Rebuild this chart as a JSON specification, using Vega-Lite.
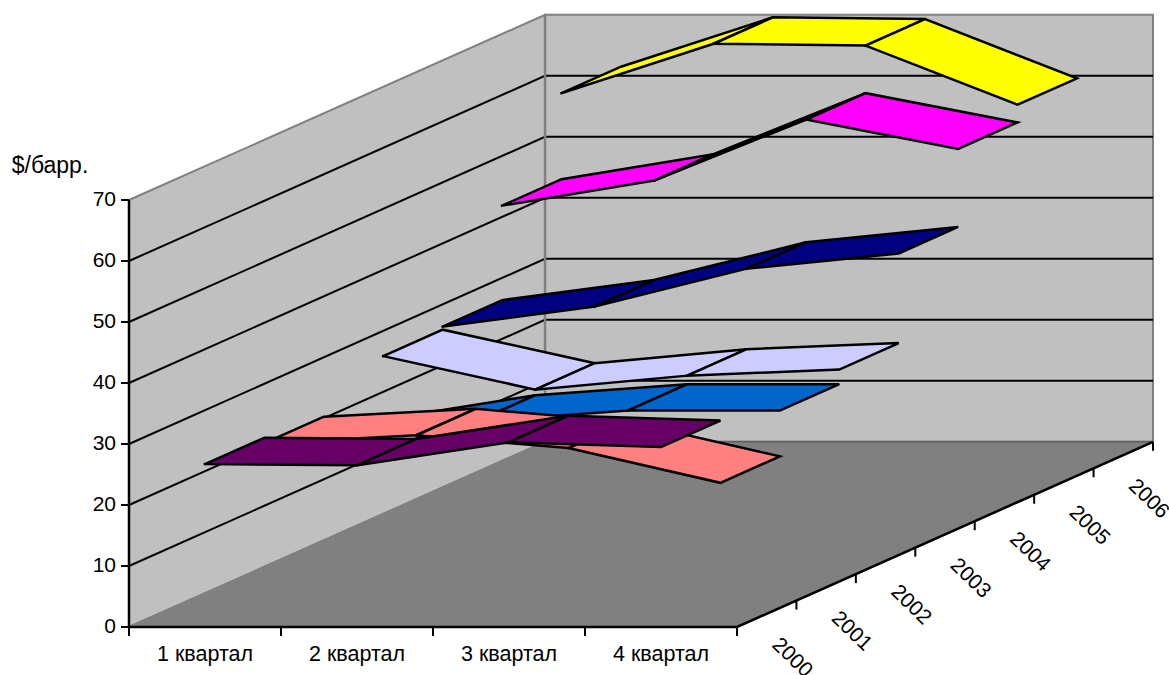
{
"$schema":"https://vega.github.io/schema/vega-lite/v6.json",
"width":1169,"height":675,"padding":0,"autosize":"none",
"background":"white",
"config":{"view":{"stroke":null},"font":"Liberation Sans"},
"resolve":{"scale":{"fill":"independent"}},
"datasets":{
"prices":[
{"year":2006,"q":0,"price":61.5},{"year":2006,"q":1,"price":69.6},{"year":2006,"q":2,"price":69.3},{"year":2006,"q":3,"price":59.6},
{"year":2005,"q":0,"price":47.4},{"year":2005,"q":1,"price":51.5},{"year":2005,"q":2,"price":61.5},{"year":2005,"q":3,"price":56.7},
{"year":2004,"q":0,"price":31.9},{"year":2004,"q":1,"price":35.2},{"year":2004,"q":2,"price":41.4},{"year":2004,"q":3,"price":43.9},
{"year":2003,"q":0,"price":31.4},{"year":2003,"q":1,"price":25.9},{"year":2003,"q":2,"price":28.2},{"year":2003,"q":3,"price":29.2},
{"year":2002,"q":0,"price":21},{"year":2002,"q":1,"price":25},{"year":2002,"q":2,"price":26.8},{"year":2002,"q":3,"price":26.8},
{"year":2001,"q":0,"price":25.8},{"year":2001,"q":1,"price":27.1},{"year":2001,"q":2,"price":25},{"year":2001,"q":3,"price":19.3},
{"year":2000,"q":0,"price":26.7},{"year":2000,"q":1,"price":26.5},{"year":2000,"q":2,"price":30.3},{"year":2000,"q":3,"price":29.5}
],
"walls":[
{"part":"left","ord":0,"q":0,"d":0,"v":0},{"part":"left","ord":1,"q":0,"d":0,"v":70},{"part":"left","ord":2,"q":0,"d":7,"v":70},{"part":"left","ord":3,"q":0,"d":7,"v":0},{"part":"left","ord":4,"q":0,"d":0,"v":0},
{"part":"back","ord":0,"q":0,"d":7,"v":0},{"part":"back","ord":1,"q":0,"d":7,"v":70},{"part":"back","ord":2,"q":4,"d":7,"v":70},{"part":"back","ord":3,"q":4,"d":7,"v":0},{"part":"back","ord":4,"q":0,"d":7,"v":0},
{"part":"floor","ord":0,"q":0,"d":0,"v":0},{"part":"floor","ord":1,"q":4,"d":0,"v":0},{"part":"floor","ord":2,"q":4,"d":7,"v":0},{"part":"floor","ord":3,"q":0,"d":7,"v":0},{"part":"floor","ord":4,"q":0,"d":0,"v":0}
],
"grid":[{"v":10},{"v":20},{"v":30},{"v":40},{"v":50},{"v":60}],
"corner":[{"ord":0,"q":0,"d":7,"v":0},{"ord":1,"q":0,"d":7,"v":70}],
"baseline":[{"ord":0,"q":0,"d":7,"v":0},{"ord":1,"q":4,"d":7,"v":0}],
"axis":[{"ord":0,"q":0,"d":0,"v":70},{"ord":1,"q":0,"d":0,"v":0},{"ord":2,"q":4,"d":0,"v":0},{"ord":3,"q":4,"d":7,"v":0}],
"ticks":[
{"kind":"v","q":0,"d":0,"v":0},{"kind":"v","q":0,"d":0,"v":10},{"kind":"v","q":0,"d":0,"v":20},{"kind":"v","q":0,"d":0,"v":30},{"kind":"v","q":0,"d":0,"v":40},{"kind":"v","q":0,"d":0,"v":50},{"kind":"v","q":0,"d":0,"v":60},{"kind":"v","q":0,"d":0,"v":70},
{"kind":"q","q":0,"d":0,"v":0},{"kind":"q","q":1,"d":0,"v":0},{"kind":"q","q":2,"d":0,"v":0},{"kind":"q","q":3,"d":0,"v":0},{"kind":"q","q":4,"d":0,"v":0},
{"kind":"q","q":4,"d":1,"v":0},{"kind":"q","q":4,"d":2,"v":0},{"kind":"q","q":4,"d":3,"v":0},{"kind":"q","q":4,"d":4,"v":0},{"kind":"q","q":4,"d":5,"v":0},{"kind":"q","q":4,"d":6,"v":0},{"kind":"q","q":4,"d":7,"v":0}
],
"vlabels":[{"v":0},{"v":10},{"v":20},{"v":30},{"v":40},{"v":50},{"v":60},{"v":70}],
"qlabels":[{"q":0,"label":"1 квартал"},{"q":1,"label":"2 квартал"},{"q":2,"label":"3 квартал"},{"q":3,"label":"4 квартал"}],
"ylabels":[{"d":0,"label":"2000"},{"d":1,"label":"2001"},{"d":2,"label":"2002"},{"d":3,"label":"2003"},{"d":4,"label":"2004"},{"d":5,"label":"2005"},{"d":6,"label":"2006"}],
"unit":[{"label":"$/барр.","v":70}]
},
"encoding":{
"x":{"field":"xp","type":"quantitative","axis":null,"scale":{"domain":[0,1169],"nice":false,"zero":false}},
"y":{"field":"yp","type":"quantitative","axis":null,"scale":{"domain":[0,675],"reverse":true,"nice":false,"zero":false}}
},
"layer":[
{"data":{"name":"walls"},
 "transform":[{"calculate":"129+152*datum.q+59.43*datum.d","as":"xp"},{"calculate":"627-6.1*datum.v-26.45*datum.d","as":"yp"}],
 "mark":{"type":"line","stroke":"#808080","strokeWidth":2,"strokeJoin":"miter"},
 "encoding":{"order":{"field":"ord"},"detail":{"field":"part"},
  "fill":{"field":"part","type":"nominal","legend":null,"scale":{"domain":["left","back","floor"],"range":["#C0C0C0","#C0C0C0","#808080"]}}}},
{"data":{"name":"grid"},
 "transform":[{"calculate":"[0,1,2]","as":"ord"},{"flatten":["ord"]},{"calculate":"datum.ord==2?4:0","as":"q"},{"calculate":"datum.ord==0?0:7","as":"d"},
  {"calculate":"129+152*datum.q+59.43*datum.d","as":"xp"},{"calculate":"627-6.1*datum.v-26.45*datum.d","as":"yp"}],
 "mark":{"type":"line","stroke":"black","strokeWidth":2,"strokeJoin":"miter"},
 "encoding":{"order":{"field":"ord"},"detail":{"field":"v"}}},
{"data":{"name":"corner"},
 "transform":[{"calculate":"129+152*datum.q+59.43*datum.d","as":"xp"},{"calculate":"627-6.1*datum.v-26.45*datum.d","as":"yp"}],
 "mark":{"type":"line","stroke":"#808080","strokeWidth":2.5},
 "encoding":{"order":{"field":"ord"}}},
{"data":{"name":"baseline"},
 "transform":[{"calculate":"129+152*datum.q+59.43*datum.d","as":"xp"},{"calculate":"627-6.1*datum.v-26.45*datum.d","as":"yp"}],
 "mark":{"type":"line","stroke":"#505050","strokeWidth":1},
 "encoding":{"order":{"field":"ord"}}},
{"data":{"name":"prices"},
 "transform":[
  {"window":[{"op":"lead","field":"price","as":"next"}],"sort":[{"field":"q"}],"groupby":["year"]},
  {"filter":"datum.q<3"},
  {"calculate":"[0,1,2,3,4]","as":"c"},{"flatten":["c"]},
  {"calculate":"datum.year-2000+((datum.c==2||datum.c==3)?1:0)","as":"dd"},
  {"calculate":"datum.q+0.5+((datum.c==1||datum.c==2)?1:0)","as":"qq"},
  {"calculate":"(datum.c==1||datum.c==2)?datum.next:datum.price","as":"vv"},
  {"calculate":"datum.year+'-'+datum.q","as":"segment"},
  {"calculate":"129+152*datum.qq+59.43*datum.dd","as":"xp"},{"calculate":"627-6.1*datum.vv-26.45*datum.dd","as":"yp"}],
 "mark":{"type":"line","stroke":"black","strokeWidth":2.5,"strokeJoin":"miter","strokeCap":"square"},
 "encoding":{"order":{"field":"c"},"detail":{"field":"segment"},
  "fill":{"field":"year","type":"nominal","legend":null,"scale":{"domain":[2000,2001,2002,2003,2004,2005,2006],"range":["#660066","#FF8080","#0066CC","#CCCCFF","#000080","#FF00FF","#FFFF00"]}}}},
{"data":{"name":"axis"},
 "transform":[{"calculate":"129+152*datum.q+59.43*datum.d","as":"xp"},{"calculate":"627-6.1*datum.v-26.45*datum.d","as":"yp"}],
 "mark":{"type":"line","stroke":"black","strokeWidth":2.5,"strokeJoin":"miter"},
 "encoding":{"order":{"field":"ord"}}},
{"data":{"name":"ticks"},
 "transform":[{"calculate":"129+152*datum.q+59.43*datum.d","as":"xp"},{"calculate":"627-6.1*datum.v-26.45*datum.d","as":"yp"},
  {"calculate":"datum.kind=='v'?datum.xp-8:datum.xp","as":"xp2"},{"calculate":"datum.kind=='v'?datum.yp:datum.yp+9","as":"yp2"}],
 "mark":{"type":"rule","stroke":"black","strokeWidth":2},
 "encoding":{"x2":{"field":"xp2"},"y2":{"field":"yp2"}}},
{"data":{"name":"vlabels"},
 "transform":[{"calculate":"129","as":"xp"},{"calculate":"627-6.1*datum.v","as":"yp"}],
 "mark":{"type":"text","align":"right","baseline":"middle","dx":-13,"fontSize":21,"color":"black"},
 "encoding":{"text":{"field":"v","type":"quantitative"}}},
{"data":{"name":"qlabels"},
 "transform":[{"calculate":"129+152*(datum.q+0.5)","as":"xp"},{"calculate":"627","as":"yp"}],
 "mark":{"type":"text","align":"center","baseline":"middle","dy":28,"fontSize":21.5,"color":"black"},
 "encoding":{"text":{"field":"label"}}},
{"data":{"name":"ylabels"},
 "transform":[{"calculate":"737+59.43*datum.d","as":"xp"},{"calculate":"627-26.45*datum.d","as":"yp"}],
 "mark":{"type":"text","align":"center","baseline":"middle","angle":44,"dx":61,"dy":-16,"fontSize":21,"color":"black"},
 "encoding":{"text":{"field":"label"}}},
{"data":{"name":"unit"},
 "transform":[{"calculate":"129","as":"xp"},{"calculate":"627-6.1*datum.v","as":"yp"}],
 "mark":{"type":"text","align":"center","baseline":"middle","dx":-79,"dy":-34,"fontSize":23,"color":"black"},
 "encoding":{"text":{"field":"label"}}}
]
}
